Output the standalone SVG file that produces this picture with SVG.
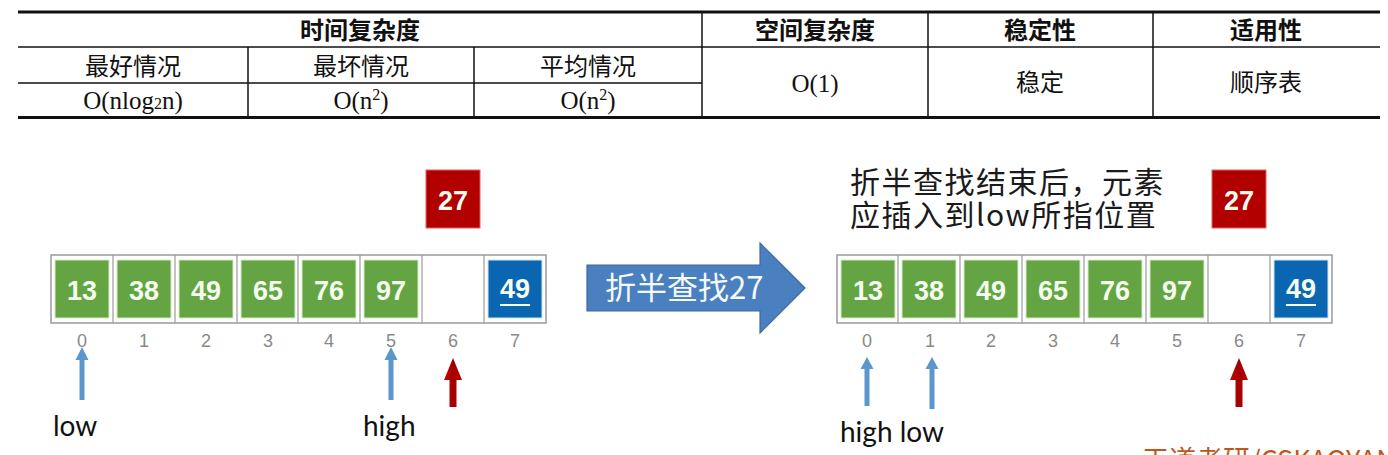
<svg xmlns="http://www.w3.org/2000/svg" width="1388" height="455" viewBox="0 0 1388 455">
<style>
.cjkb{font-family:"Noto Sans CJK SC","Noto Sans",sans-serif;font-size:24px;font-weight:bold;fill:#111;text-anchor:middle}
.cjk{font-family:"Noto Sans CJK SC","Noto Sans",sans-serif;font-size:24px;fill:#111;text-anchor:middle}
.tm{font-family:"Liberation Serif",serif;font-size:25px;fill:#111;text-anchor:middle}
.thick{stroke:#111;stroke-width:3}
.thin{stroke:#111;stroke-width:1.5}
.frame{fill:#fff;stroke:#9a9a9a;stroke-width:1.5}
.cell{fill:none;stroke:#9a9a9a;stroke-width:1.2}
.g{fill:#65a442;stroke:#d4ecc6;stroke-width:1}
.b{fill:#0a66b0;stroke:#cfe3f5;stroke-width:1}
.r{fill:#b20000;stroke:#e06060;stroke-width:1}
.num{font-family:"Liberation Sans",Arial,sans-serif;font-size:27px;font-weight:bold;fill:#f4fbef;text-anchor:middle}
.idx{font-family:"Liberation Sans",Arial,sans-serif;font-size:18px;fill:#8a8a8a;text-anchor:middle}
.lbl{font-family:Lato,"Open Sans",sans-serif;font-size:28px;fill:#111}
.note{font-family:"Noto Sans CJK SC","Noto Sans",sans-serif;font-size:30px;letter-spacing:1.5px;fill:#1a1a1a}
.blue{fill:#5b96cc}
.red{fill:url(#rg)}
</style>
<defs>
<linearGradient id="rg" x1="0" y1="0" x2="1" y2="0">
<stop offset="0" stop-color="#d00000"/>
<stop offset="0.5" stop-color="#a00000"/>
<stop offset="1" stop-color="#c00000"/>
</linearGradient>
</defs>
<rect width="1388" height="455" fill="#fff"/>

<g id="table">
<line class="thick" x1="18" y1="12" x2="1380" y2="12"/>
<line class="thin" x1="18" y1="47" x2="1380" y2="47"/>
<line class="thin" x1="18" y1="83" x2="702" y2="83"/>
<line class="thick" x1="18" y1="117.5" x2="1380" y2="117.5"/>
<line class="thin" x1="702" y1="12" x2="702" y2="117"/>
<line class="thin" x1="928" y1="12" x2="928" y2="117"/>
<line class="thin" x1="1153" y1="12" x2="1153" y2="117"/>
<line class="thin" x1="248" y1="47" x2="248" y2="117"/>
<line class="thin" x1="474" y1="47" x2="474" y2="117"/>
<text class="cjkb" x="360" y="39">时间复杂度</text>
<text class="cjkb" x="815" y="39">空间复杂度</text>
<text class="cjkb" x="1040" y="39">稳定性</text>
<text class="cjkb" x="1266" y="39">适用性</text>
<text class="cjk" x="133" y="75">最好情况</text>
<text class="cjk" x="361" y="75">最坏情况</text>
<text class="cjk" x="588" y="75">平均情况</text>
<text class="tm" x="133" y="109">O(nlog<tspan font-size="16">2</tspan>n)</text>
<text class="tm" x="361" y="109">O(n<tspan font-size="16" dy="-9">2</tspan><tspan dy="9">)</tspan></text>
<text class="tm" x="588" y="109">O(n<tspan font-size="16" dy="-9">2</tspan><tspan dy="9">)</tspan></text>
<text class="tm" x="815" y="92">O(1)</text>
<text class="cjk" x="1040" y="91">稳定</text>
<text class="cjk" x="1266" y="91">顺序表</text>
</g>

<g id="array-left">
<rect class="frame" x="51" y="255" width="495" height="68"/>
<line class="cell" x1="113" y1="255" x2="113" y2="323"/>
<line class="cell" x1="175" y1="255" x2="175" y2="323"/>
<line class="cell" x1="237" y1="255" x2="237" y2="323"/>
<line class="cell" x1="298" y1="255" x2="298" y2="323"/>
<line class="cell" x1="360" y1="255" x2="360" y2="323"/>
<line class="cell" x1="422" y1="255" x2="422" y2="323"/>
<line class="cell" x1="484" y1="255" x2="484" y2="323"/>
<rect class="g" x="55" y="260" width="54" height="58"/>
<rect class="g" x="117" y="260" width="54" height="58"/>
<rect class="g" x="179" y="260" width="54" height="58"/>
<rect class="g" x="241" y="260" width="54" height="58"/>
<rect class="g" x="302" y="260" width="54" height="58"/>
<rect class="g" x="364" y="260" width="54" height="58"/>
<rect class="b" x="488" y="260" width="54" height="58"/>
<text class="num" x="82" y="300">13</text>
<text class="num" x="144" y="300">38</text>
<text class="num" x="206" y="300">49</text>
<text class="num" x="268" y="300">65</text>
<text class="num" x="329" y="300">76</text>
<text class="num" x="391" y="300">97</text>
<text class="num" x="515" y="298">49</text>
<rect x="500" y="304" width="30" height="2" fill="#f4fbef"/>
<text class="idx" x="82" y="347">0</text>
<text class="idx" x="144" y="347">1</text>
<text class="idx" x="206" y="347">2</text>
<text class="idx" x="268" y="347">3</text>
<text class="idx" x="329" y="347">4</text>
<text class="idx" x="391" y="347">5</text>
<text class="idx" x="453" y="347">6</text>
<text class="idx" x="515" y="347">7</text>
</g>

<g id="key-left">
<rect class="r" x="426" y="170" width="54" height="58"/>
<text class="num" x="453" y="210">27</text>
</g>

<g id="search-arrow">
<polygon points="587,265 760,265 760,243 805,288 760,333 760,311 587,311" fill="#4a80c0" stroke="#3a6aa0" stroke-width="1.2"/>
<text x="605" y="299" font-family="'Noto Sans CJK SC','Noto Sans',sans-serif" font-size="31" fill="#f5f8fc">折半查找27</text>
</g>

<g id="note">
<text class="note" x="850" y="193">折半查找结束后，元素</text>
<text class="note" x="850" y="226">应插入到low所指位置</text>
</g>

<g id="key-right">
<rect class="r" x="1212" y="170" width="54" height="58"/>
<text class="num" x="1239" y="210">27</text>
</g>

<g id="array-right">
<rect class="frame" x="837" y="255" width="495" height="68"/>
<line class="cell" x1="898" y1="255" x2="898" y2="323"/>
<line class="cell" x1="960" y1="255" x2="960" y2="323"/>
<line class="cell" x1="1022" y1="255" x2="1022" y2="323"/>
<line class="cell" x1="1084" y1="255" x2="1084" y2="323"/>
<line class="cell" x1="1146" y1="255" x2="1146" y2="323"/>
<line class="cell" x1="1208" y1="255" x2="1208" y2="323"/>
<line class="cell" x1="1270" y1="255" x2="1270" y2="323"/>
<rect class="g" x="841" y="260" width="54" height="58"/>
<rect class="g" x="902" y="260" width="54" height="58"/>
<rect class="g" x="964" y="260" width="54" height="58"/>
<rect class="g" x="1026" y="260" width="54" height="58"/>
<rect class="g" x="1088" y="260" width="54" height="58"/>
<rect class="g" x="1150" y="260" width="54" height="58"/>
<rect class="b" x="1274" y="260" width="54" height="58"/>
<text class="num" x="868" y="300">13</text>
<text class="num" x="929" y="300">38</text>
<text class="num" x="991" y="300">49</text>
<text class="num" x="1053" y="300">65</text>
<text class="num" x="1115" y="300">76</text>
<text class="num" x="1177" y="300">97</text>
<text class="num" x="1301" y="298">49</text>
<rect x="1286" y="304" width="30" height="2" fill="#f4fbef"/>
<text class="idx" x="867" y="347">0</text>
<text class="idx" x="930" y="347">1</text>
<text class="idx" x="991" y="347">2</text>
<text class="idx" x="1053" y="347">3</text>
<text class="idx" x="1115" y="347">4</text>
<text class="idx" x="1177" y="347">5</text>
<text class="idx" x="1239" y="347">6</text>
<text class="idx" x="1301" y="347">7</text>
</g>

<g id="connectors">
<polygon class="blue" points="82,347 88.5,360 84.5,360 84.5,400 79.5,400 79.5,360 75.5,360"/>
<polygon class="blue" points="391,347 397.5,360 393.5,360 393.5,400 388.5,400 388.5,360 384.5,360"/>
<polygon class="red" points="453,358 462,380 456.5,380 456.5,407 449.5,407 449.5,380 444,380"/>
<polygon class="blue" points="867,357 873.5,369 869.5,369 869.5,406 864.5,406 864.5,369 860.5,369"/>
<polygon class="blue" points="932,357 938.5,369 934.5,369 934.5,409 929.5,409 929.5,369 925.5,369"/>
<polygon class="red" points="1239,358 1248,380 1242.5,380 1242.5,407 1235.5,407 1235.5,380 1230,380"/>
</g>

<g id="labels">
<text class="lbl" x="53" y="436">low</text>
<text class="lbl" x="363" y="436">high</text>
<text class="lbl" x="840" y="442">high low</text>
</g>

<g id="watermark">
<text x="1142" y="470" font-family="'Noto Sans CJK SC','Liberation Sans',sans-serif" font-size="27" fill="#c0561c">王道考研/CSKAOYAN.COM</text>
</g>
</svg>
